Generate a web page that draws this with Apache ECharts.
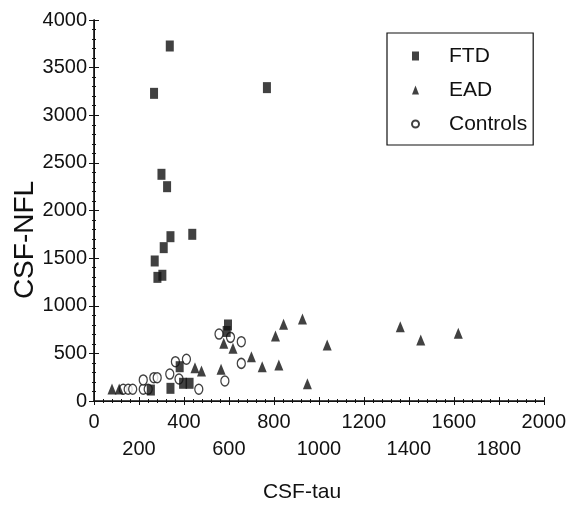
<!DOCTYPE html>
<html>
<head>
<meta charset="utf-8">
<script src="https://cdn.jsdelivr.net/npm/echarts@6/dist/echarts.min.js"></script>
<style>html,body{margin:0;padding:0;background:#fff}#c{width:569px;height:509px}</style>
</head>
<body>
<div id="c"></div>
<script>
// ---- data ----
var ftdX = [337, 267, 769, 300, 325, 437, 340, 310, 270, 282, 304, 596, 590, 381, 396, 425, 340, 253];
var ftdY = [3727, 3230, 3290, 2380, 2250, 1750, 1725, 1610, 1470, 1298, 1320, 798, 730, 360, 186, 186, 133, 115];
var eadX = [80, 112, 449, 478, 565, 577, 618, 700, 748, 822, 807, 843, 927, 949, 1037, 1362, 1453, 1620];
var eadY = [126, 126, 350, 315, 333, 605, 553, 465, 360, 378, 682, 805, 860, 180, 588, 780, 640, 710];
var ctrlX = [130, 152, 172, 219, 241, 219, 266, 281, 337, 362, 411, 378, 466, 556, 607, 655, 655, 582];
var ctrlY = [123, 123, 123, 123, 123, 221, 245, 245, 283, 413, 438, 231, 123, 703, 668, 623, 395, 210];
var seriesNames = ['FTD', 'EAD', 'Controls'];
var xTopLabels = [0, 400, 800, 1200, 1600, 2000];
var xBottomLabels = [200, 600, 1000, 1400, 1800];
var yLabels = [0, 500, 1000, 1500, 2000, 2500, 3000, 3500, 4000];
var xTitle = 'CSF-tau';
var yTitle = 'CSF-NFL';

function pairs(xs, ys) { return xs.map(function (x, i) { return [x, ys[i]]; }); }

var sans = "'Liberation Sans', Arial, sans-serif";
var ink = '#111';
var ellipse = 'path://M50,0A50,50 0 1,1 50,100A50,50 0 1,1 50,0Z';

var chart = echarts.init(document.getElementById('c'), null, {renderer: 'canvas'});

function xAx(pos, showLabel) {
  return {
    type: 'value', position: pos, min: 0, max: 2000, interval: 200,
    axisLine: {show: true, lineStyle: {color: ink, width: pos === 'bottom' ? 1.6 : 1}},
    axisTick: {show: true, inside: true, length: 4, lineStyle: {color: ink}},
    minorTick: {show: true, splitNumber: 5, length: 2, lineStyle: {color: ink}},
    splitLine: {show: false},
    axisLabel: {
      show: showLabel, margin: 8, color: ink, fontFamily: sans, fontSize: 20, lineHeight: 27,
      showMinLabel: true, showMaxLabel: true, hideOverlap: false,
      formatter: function (v) {
        if (xTopLabels.indexOf(v) >= 0) return String(v);
        if (xBottomLabels.indexOf(v) >= 0) return '\n' + v;
        return '';
      }
    }
  };
}
function yAx(pos, showLabel) {
  return {
    type: 'value', position: pos, min: 0, max: 4000, interval: 500,
    axisLine: {show: true, lineStyle: {color: ink, width: pos === 'left' ? 1.6 : 1}},
    axisTick: {show: true, inside: true, length: 5, lineStyle: {color: ink}},
    minorTick: {show: true, splitNumber: 5, length: 2, lineStyle: {color: ink}},
    splitLine: {show: false},
    axisLabel: {
      show: showLabel, margin: 7, color: ink, fontFamily: sans, fontSize: 20,
      showMinLabel: true, showMaxLabel: true,
      formatter: function (v) { return yLabels.indexOf(v) >= 0 ? String(v) : ''; }
    }
  };
}

chart.setOption({
  animation: false,
  backgroundColor: '#fff',
  grid: {left: 94, right: 24, top: 20, bottom: 108, containLabel: false},
  xAxis: [xAx('bottom', true), xAx('top', false)],
  yAxis: [yAx('left', true), yAx('right', false)],
  legend: {
    orient: 'vertical', left: 387, top: 33,
    padding: [11, 6, 9, 24],
    itemWidth: 7, itemHeight: 9, itemGap: 10,
    borderColor: ink, borderWidth: 1.2,
    data: seriesNames,
    textStyle: {fontFamily: sans, fontSize: 21, lineHeight: 24, color: ink, padding: [0, 0, 0, 25]}
  },
  graphic: [
    {type: 'text', x: 25, y: 240, rotation: Math.PI / 2,
     style: {text: yTitle, font: '28px ' + sans, fill: ink, textAlign: 'center', textVerticalAlign: 'middle'}},
    {type: 'text', x: 302, y: 492,
     style: {text: xTitle, font: '21px ' + sans, fill: ink, textAlign: 'center', textVerticalAlign: 'middle'}}
  ],
  series: [
    {name: 'Controls', type: 'scatter', data: pairs(ctrlX, ctrlY), symbol: ellipse, symbolSize: [8, 10],
     itemStyle: {color: '#fff', borderColor: ink, borderWidth: 1.4}, z: 2},
    {name: 'EAD', type: 'scatter', data: pairs(eadX, eadY), symbol: 'triangle', symbolSize: [9, 11],
     itemStyle: {color: ink}, z: 3},
    {name: 'FTD', type: 'scatter', data: pairs(ftdX, ftdY), symbol: 'rect', symbolSize: [8, 11],
     itemStyle: {color: ink}, z: 4}
  ]
});
</script>
</body>
</html>
